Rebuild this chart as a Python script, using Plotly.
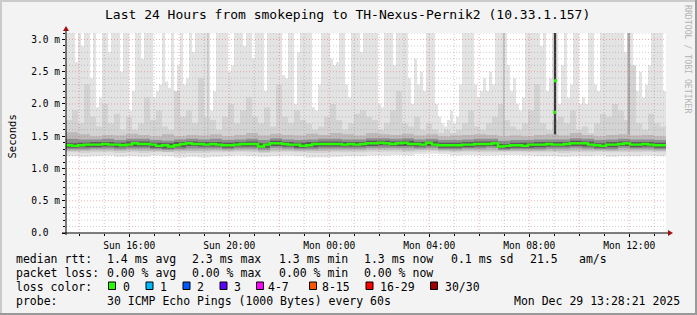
import pandas as pd
import plotly.graph_objects as go

# ---------------- data ----------------
T_START = "2025-12-28 13:28:21"
T_END = "2025-12-29 13:28:21"

# top of the lightest smoke (highest ping), 200 time bins
p_max = [
    3.1, 3.1, 3.1, 2.65, 3.1, 2.9, 3.1, 3.1, 2.4, 3.1,
    1.95, 2.1, 3.1, 3.1, 2.8, 3.1, 3.1, 3.1, 2.5, 3.1,
    3.1, 1.9, 2.2, 3.1, 3.1, 2.7, 3.1, 3.1, 3.1, 2.1,
    2.2, 2.3, 3.1, 2.35, 2.25, 3.1, 2.0, 2.6, 3.1, 2.3,
    2.4, 3.1, 2.8, 3.1, 3.1, 3.1, 3.1, 3.1, 1.9, 2.2,
    3.1, 3.1, 3.1, 3.1, 2.5, 2.6, 3.1, 3.1, 3.1, 2.9,
    3.1, 3.1, 2.7, 3.1, 3.1, 3.1, 2.2, 3.1, 3.1, 3.1,
    3.1, 3.1, 2.45, 2.4, 3.1, 3.1, 2.0, 2.8, 3.1, 3.1,
    3.1, 3.1, 1.95, 1.9, 2.3, 3.1, 3.1, 3.1, 2.7, 2.6,
    2.65, 3.1, 3.1, 2.3, 2.1, 3.1, 3.1, 3.1, 2.8, 3.1,
    3.1, 3.1, 3.1, 3.1, 2.0, 1.95, 3.1, 3.1, 3.1, 2.6,
    3.1, 3.1, 3.1, 3.1, 2.4, 2.0, 2.7, 2.3, 2.5, 2.2,
    3.1, 3.1, 3.1, 2.0, 1.8, 1.7, 1.65, 1.75, 1.9, 1.7,
    1.8, 2.3, 3.1, 3.1, 3.1, 3.1, 2.3, 2.1, 2.2, 2.4,
    2.2, 2.5, 2.3, 3.1, 3.1, 3.1, 3.1, 2.6, 2.2, 2.4,
    2.0, 1.9, 2.1, 3.1, 3.1, 3.1, 3.1, 3.1, 2.9, 3.1,
    2.2, 2.4, 3.1, 3.1, 2.0, 2.6, 3.1, 2.1, 2.3, 3.1,
    3.1, 2.0, 2.1, 2.0, 3.1, 3.1, 2.3, 2.2, 3.1, 3.1,
    3.1, 3.1, 3.1, 3.1, 3.1, 3.1, 2.8, 3.1, 3.1, 2.4,
    2.2, 2.5, 2.1, 2.3, 2.6, 3.1, 3.1, 3.1, 3.1, 2.2,
]

# top of the second smoke shade, 100 time bins
p_mid = [
    1.75, 1.9, 1.7, 2.3, 1.8, 1.65, 2.0, 1.7, 1.85, 1.6,
    1.8, 1.6, 1.7, 2.1, 1.75, 1.9, 1.65, 1.6, 2.2, 1.8,
    1.9, 1.7, 2.4, 1.8, 1.75, 1.6, 1.8, 2.0, 1.7, 1.9,
    2.1, 1.8, 1.7, 1.95, 1.65, 2.3, 1.8, 1.7, 1.9, 1.75,
    1.7, 1.6, 1.65, 1.8, 2.0, 1.75, 1.6, 1.7, 1.85, 1.9,
    1.8, 1.75, 1.6, 1.7, 1.9, 2.2, 1.7, 1.65, 1.8, 1.6,
    1.7, 1.6, 1.55, 1.6, 1.55, 1.6, 1.7, 1.9, 1.65, 1.6,
    1.7, 1.8, 2.0, 1.75, 1.65, 1.6, 1.7, 1.9, 2.3, 1.7,
    1.6, 1.75, 1.8, 1.7, 1.9, 1.6, 1.65, 1.55, 1.7, 1.85,
    1.8, 2.0, 1.9, 1.75, 2.6, 1.7, 1.6, 1.85, 1.7, 1.65,
]

# lower edges of the light smoke shades, 50 time bins
low1 = [
    1.19, 1.18, 1.19, 1.20, 1.18, 1.19, 1.18, 1.20, 1.19, 1.17,
    1.18, 1.17, 1.18, 1.19, 1.20, 1.19, 1.18, 1.19, 1.20, 1.19,
    1.17, 1.17, 1.18, 1.19, 1.19, 1.20, 1.20, 1.21, 1.20, 1.22,
    1.23, 1.22, 1.20, 1.21, 1.20, 1.20, 1.21, 1.21, 1.20, 1.19,
    1.19, 1.18, 1.19, 1.19, 1.20, 1.18, 1.19, 1.19, 1.20, 1.19,
]
low2 = [
    1.25, 1.24, 1.25, 1.25, 1.24, 1.25, 1.24, 1.25, 1.25, 1.23,
    1.24, 1.24, 1.25, 1.25, 1.26, 1.25, 1.24, 1.25, 1.26, 1.25,
    1.24, 1.24, 1.25, 1.25, 1.25, 1.26, 1.26, 1.26, 1.25, 1.26,
    1.27, 1.26, 1.25, 1.26, 1.25, 1.25, 1.26, 1.26, 1.25, 1.25,
    1.25, 1.24, 1.25, 1.25, 1.26, 1.25, 1.25, 1.25, 1.26, 1.25,
]
# darker inner smoke shades, 50 time bins
lo3 = [
    1.27, 1.27, 1.28, 1.28, 1.27, 1.28, 1.27, 1.27, 1.26, 1.27,
    1.27, 1.27, 1.28, 1.27, 1.28, 1.28, 1.26, 1.28, 1.28, 1.27,
    1.27, 1.27, 1.28, 1.28, 1.28, 1.29, 1.29, 1.29, 1.28, 1.29,
    1.29, 1.28, 1.27, 1.28, 1.28, 1.28, 1.27, 1.27, 1.27, 1.27,
    1.28, 1.27, 1.28, 1.28, 1.28, 1.27, 1.28, 1.28, 1.28, 1.27,
]
hi3 = [
    1.56, 1.53, 1.50, 1.52, 1.51, 1.54, 1.52, 1.50, 1.53, 1.50,
    1.52, 1.51, 1.53, 1.50, 1.52, 1.55, 1.51, 1.54, 1.52, 1.51,
    1.54, 1.52, 1.55, 1.53, 1.51, 1.55, 1.53, 1.52, 1.54, 1.51,
    1.53, 1.50, 1.51, 1.52, 1.53, 1.52, 1.50, 1.51, 1.50, 1.52,
    1.53, 1.51, 1.55, 1.52, 1.50, 1.52, 1.53, 1.51, 1.52, 1.50,
]
lo4 = [
    1.30, 1.30, 1.31, 1.31, 1.30, 1.31, 1.31, 1.30, 1.29, 1.30,
    1.31, 1.31, 1.31, 1.30, 1.31, 1.31, 1.29, 1.32, 1.31, 1.30,
    1.30, 1.31, 1.31, 1.31, 1.31, 1.32, 1.32, 1.32, 1.32, 1.31,
    1.32, 1.30, 1.30, 1.31, 1.31, 1.32, 1.29, 1.30, 1.30, 1.30,
    1.31, 1.31, 1.32, 1.31, 1.30, 1.30, 1.32, 1.31, 1.31, 1.30,
]
hi4 = [
    1.46, 1.45, 1.45, 1.46, 1.44, 1.46, 1.46, 1.44, 1.43, 1.45,
    1.46, 1.45, 1.46, 1.44, 1.45, 1.46, 1.44, 1.47, 1.45, 1.44,
    1.45, 1.46, 1.46, 1.45, 1.45, 1.47, 1.47, 1.46, 1.47, 1.45,
    1.46, 1.44, 1.44, 1.45, 1.46, 1.46, 1.43, 1.44, 1.44, 1.45,
    1.45, 1.45, 1.47, 1.46, 1.44, 1.45, 1.46, 1.45, 1.45, 1.44,
]
lo5 = [
    1.32, 1.33, 1.33, 1.34, 1.33, 1.34, 1.34, 1.32, 1.31, 1.33,
    1.35, 1.34, 1.34, 1.32, 1.34, 1.34, 1.32, 1.35, 1.34, 1.32,
    1.33, 1.34, 1.34, 1.34, 1.34, 1.35, 1.36, 1.35, 1.35, 1.34,
    1.35, 1.32, 1.32, 1.33, 1.34, 1.35, 1.31, 1.32, 1.32, 1.33,
    1.34, 1.34, 1.35, 1.34, 1.32, 1.33, 1.35, 1.33, 1.34, 1.32,
]
hi5 = [
    1.39, 1.40, 1.41, 1.41, 1.40, 1.42, 1.42, 1.40, 1.39, 1.41,
    1.42, 1.41, 1.41, 1.40, 1.41, 1.42, 1.39, 1.43, 1.41, 1.40,
    1.41, 1.42, 1.42, 1.41, 1.41, 1.43, 1.43, 1.42, 1.43, 1.41,
    1.42, 1.40, 1.40, 1.41, 1.42, 1.42, 1.38, 1.40, 1.40, 1.41,
    1.41, 1.41, 1.43, 1.42, 1.39, 1.41, 1.42, 1.41, 1.41, 1.40,
]

# median rtt (ms), 100 time bins
median = [
    1.36, 1.35, 1.36, 1.37, 1.37, 1.37, 1.38, 1.37, 1.37, 1.36,
    1.37, 1.39, 1.38, 1.38, 1.37, 1.35, 1.36, 1.34, 1.36, 1.38,
    1.39, 1.38, 1.38, 1.37, 1.38, 1.37, 1.36, 1.36, 1.37, 1.38,
    1.38, 1.38, 1.34, 1.37, 1.39, 1.39, 1.38, 1.37, 1.37, 1.35,
    1.36, 1.38, 1.38, 1.38, 1.38, 1.38, 1.37, 1.38, 1.37, 1.38,
    1.39, 1.39, 1.40, 1.39, 1.38, 1.39, 1.40, 1.38, 1.38, 1.37,
    1.40, 1.37, 1.36, 1.36, 1.36, 1.36, 1.37, 1.37, 1.38, 1.38,
    1.38, 1.39, 1.34, 1.35, 1.36, 1.36, 1.35, 1.37, 1.37, 1.37,
    1.38, 1.37, 1.37, 1.38, 1.39, 1.39, 1.39, 1.37, 1.36, 1.35,
    1.37, 1.37, 1.38, 1.39, 1.37, 1.37, 1.38, 1.37, 1.36, 1.36,
]

# short bursts of high latency (darker smoke columns)
burst_time = ["2025-12-28 19:09", "2025-12-29 06:59", "2025-12-29 09:02", "2025-12-29 11:59"]
burst_minutes = [4.0, 4.0, 5.5, 6.0]
burst_lo = [1.30, 1.30, 1.28, 1.30]
burst_hi = [3.1, 3.1, 3.1, 3.1]
burst_color = ["#cacaca", "#c0c0c0", "#363636", "#aaaaaa"]
# median readings during the burst
spike_time = ["2025-12-29 09:01", "2025-12-29 09:03"]
spike_value = [1.87, 2.36]

x_tick_vals = ["2025-12-28 16:00", "2025-12-28 20:00", "2025-12-29 00:00",
               "2025-12-29 04:00", "2025-12-29 08:00", "2025-12-29 12:00"]
x_tick_text = ["Sun 16:00", "Sun 20:00", "Mon 00:00", "Mon 04:00", "Mon 08:00", "Mon 12:00"]
y_tick_vals = [0.0, 0.5, 1.0, 1.5, 2.0, 2.5, 3.0]
y_tick_text = ["0.0\u00a0\u00a0", "0.5 m", "1.0 m", "1.5 m", "2.0 m", "2.5 m", "3.0 m"]
Y_MAX = 3.1

title_text = "Last 24 Hours from smokeping to TH-Nexus-Pernik2 (10.33.1.157)"
y_title = "Seconds"
watermark = "RRDTOOL / TOBI OETIKER"
rtt_label = "median rtt:"
rtt_stats = ["1.4 ms avg", "2.3 ms max", "1.3 ms min", "1.3 ms now", "0.1 ms sd", "21.5", "am/s"]
loss_label = "packet loss:"
loss_stats = ["0.00 % avg", "0.00 % max", "0.00 % min", "0.00 % now"]
color_label = "loss color:"
loss_names = ["0", "1", "2", "3", "4-7", "8-15", "16-29", "30/30"]
loss_colors = ["#26ff00", "#00b8ff", "#0059ff", "#5e00ff", "#ff00ff", "#ff5500", "#ff0000", "#a10000"]
probe_label = "probe:"
probe_text = "30 ICMP Echo Pings (1000 Bytes) every 60s"
stamp_text = "Mon Dec 29 13:28:21 2025"

# ---------------- layout constants (pixels) ----------------
W, H = 697, 315
PL, PR, PT, PB = 66, 666, 33, 233
MONO = "DejaVu Sans Mono"
BG = "#f3f3f3"
GRID_MINOR = "rgba(120,120,120,0.38)"
GRID_MAJOR = "rgba(230,70,70,0.42)"


def px(x):
    return (x - PL) / (PR - PL)


def py(y):
    return (PB - y) / (PB - PT)


t0 = pd.Timestamp(T_START)
t1 = pd.Timestamp(T_END)


def edges(n):
    return [t0 + (t1 - t0) * i / n for i in range(n + 1)]


def step(vals):
    return list(vals) + [vals[-1]]


fig = go.Figure()


def band(lo, hi, color):
    fig.add_trace(go.Scatter(x=edges(len(lo)), y=step(lo), mode="lines",
                             line=dict(width=0, shape="hv"), hoverinfo="skip"))
    fig.add_trace(go.Scatter(x=edges(len(hi)), y=step(hi), mode="lines",
                             line=dict(width=0, shape="hv"), fill="tonexty",
                             fillcolor=color, hoverinfo="skip"))


band(low1, p_max, "#e3e3e3")
band(low2, p_mid, "#d3d3d3")

for tm, mins, lo, hi, col in zip(burst_time, burst_minutes, burst_lo, burst_hi, burst_color):
    c = pd.Timestamp(tm)
    half = pd.Timedelta(minutes=mins / 2)
    fig.add_trace(go.Scatter(x=[c - half, c + half, c + half, c - half, c - half],
                             y=[lo, lo, hi, hi, lo], mode="lines", fill="toself",
                             fillcolor=col, line=dict(width=0), hoverinfo="skip"))

band(lo3, hi3, "#bababa")
band(lo4, hi4, "#8e8e8e")
band(lo5, hi5, "#5a5a5a")

fig.add_trace(go.Scatter(x=edges(len(median)), y=step(median), mode="lines",
                         line=dict(color=loss_colors[0], width=2.4, shape="hv"), hoverinfo="skip"))
fig.add_trace(go.Scatter(x=spike_time, y=spike_value, mode="markers",
                         marker=dict(symbol="square", size=3, color=loss_colors[0], line=dict(width=0)),
                         hoverinfo="skip"))

shapes = []
# horizontal grid lines
for k in range(1, int(round(Y_MAX * 10)) + 1):
    major = k % 5 == 0
    shapes.append(dict(type="line", xref="paper", yref="y", x0=0, x1=1, y0=k / 10, y1=k / 10,
                       line=dict(color=GRID_MAJOR if major else GRID_MINOR, width=1, dash="1px,2px"),
                       layer="above"))
# vertical grid lines every hour
h = t0.ceil("h")
while h < t1:
    major = h.hour % 2 == 0
    shapes.append(dict(type="line", xref="x", yref="paper", x0=h, x1=h, y0=0, y1=1,
                       line=dict(color=GRID_MAJOR if major else GRID_MINOR, width=1, dash="1px,2px"),
                       layer="above"))
    h += pd.Timedelta(hours=1)

AX = "#000000"
ARROW = "#a01010"
# axis lines
shapes.append(dict(type="line", xref="paper", yref="paper", x0=px(62), x1=px(668), y0=py(233), y1=py(233),
                   line=dict(color=AX, width=1), layer="above"))
shapes.append(dict(type="line", xref="paper", yref="paper", x0=px(66), x1=px(66), y0=py(235), y1=py(30),
                   line=dict(color=AX, width=1), layer="above"))
# arrows
shapes.append(dict(type="path", xref="paper", yref="paper",
                   path=f"M {px(63)},{py(31)} L {px(69)},{py(31)} L {px(66)},{py(26)} Z",
                   fillcolor=ARROW, line=dict(width=0), layer="above"))
shapes.append(dict(type="path", xref="paper", yref="paper",
                   path=f"M {px(668)},{py(230)} L {px(668)},{py(236)} L {px(673)},{py(233)} Z",
                   fillcolor=ARROW, line=dict(width=0), layer="above"))
# 3D frame
shapes.append(dict(type="rect", xref="paper", yref="paper", x0=px(0), x1=px(W), y0=py(0), y1=py(2),
                   fillcolor="#cbcbcb", line=dict(width=0), layer="above"))
shapes.append(dict(type="rect", xref="paper", yref="paper", x0=px(0), x1=px(2), y0=py(0), y1=py(H),
                   fillcolor="#cbcbcb", line=dict(width=0), layer="above"))
shapes.append(dict(type="rect", xref="paper", yref="paper", x0=px(0), x1=px(W), y0=py(H - 2), y1=py(H),
                   fillcolor="#999999", line=dict(width=0), layer="above"))
shapes.append(dict(type="rect", xref="paper", yref="paper", x0=px(W - 2), x1=px(W), y0=py(0), y1=py(H),
                   fillcolor="#999999", line=dict(width=0), layer="above"))

ROWS = [258.8, 272.8, 286.6, 300.6]
LEG = 11.5
annotations = []


def ann(text, x, y, size, xanchor="left", color="#000000", angle=0):
    annotations.append(dict(text=text, x=px(x), y=py(y), xref="paper", yref="paper",
                            xanchor=xanchor, yanchor="middle", showarrow=False,
                            font=dict(family=MONO, size=size, color=color),
                            borderpad=0, borderwidth=0, textangle=angle))


ann(title_text, 347, 14, 13, xanchor="center")
ann(watermark, 688, 59, 8.2, xanchor="center", color="#b4b4b4", angle=90)
ann(y_title, 11, 136.5, 10.5, xanchor="center", angle=-90)

ann(rtt_label, 16, ROWS[0], LEG)
for txt, x in zip(rtt_stats, [106.7, 192.4, 279, 364.4, 451, 530, 579]):
    ann(txt, x, ROWS[0], LEG)
ann(loss_label, 16, ROWS[1], LEG)
for txt, x in zip(loss_stats, [106.7, 192.4, 279, 364.4]):
    ann(txt, x, ROWS[1], LEG)
ann(color_label, 16, ROWS[2], LEG)
sq_centers = [112, 149.5, 186.5, 223.5, 260, 313, 369.5, 434]
lbl_x = [123, 160, 197, 234, 267.5, 322, 380, 445]
for name, col, c, lx in zip(loss_names, loss_colors, sq_centers, lbl_x):
    shapes.append(dict(type="rect", xref="paper", yref="paper", x0=px(c - 3.5), x1=px(c + 3.5),
                       y0=py(289.5), y1=py(282), fillcolor=col, line=dict(color="#000000", width=1),
                       layer="above"))
    ann(name, lx, ROWS[2], LEG)
ann(probe_label, 16, ROWS[3], LEG)
ann(probe_text, 106.7, ROWS[3], LEG)
ann(stamp_text, 680, ROWS[3], LEG, xanchor="right")

fig.update_layout(
    width=W, height=H, autosize=False,
    margin=dict(l=PL, r=W - PR, t=PT, b=H - PB, pad=0),
    paper_bgcolor=BG, plot_bgcolor="#ffffff",
    showlegend=False, shapes=shapes, annotations=annotations,
    xaxis=dict(type="date", range=[t0, t1], showgrid=False, zeroline=False, showline=False,
               tickvals=x_tick_vals, ticktext=x_tick_text, ticks="outside", ticklen=3,
               tickcolor=AX, tickfont=dict(family=MONO, size=9.6, color="#000000"),
               minor=dict(ticks="outside", ticklen=2, dtick=3600000, tick0="2025-12-28 14:00",
                          tickcolor=AX, showgrid=False),
               fixedrange=True),
    yaxis=dict(range=[0, Y_MAX], showgrid=False, zeroline=False, showline=False,
               tickvals=y_tick_vals, ticktext=y_tick_text, ticks="outside", ticklen=3,
               tickcolor=AX, tickfont=dict(family=MONO, size=9.6, color="#000000"),
               minor=dict(ticks="outside", ticklen=2, dtick=0.1, tick0=0, tickcolor=AX, showgrid=False),
               fixedrange=True),
)

fig.write_html("out.html", config={"displayModeBar": False})
